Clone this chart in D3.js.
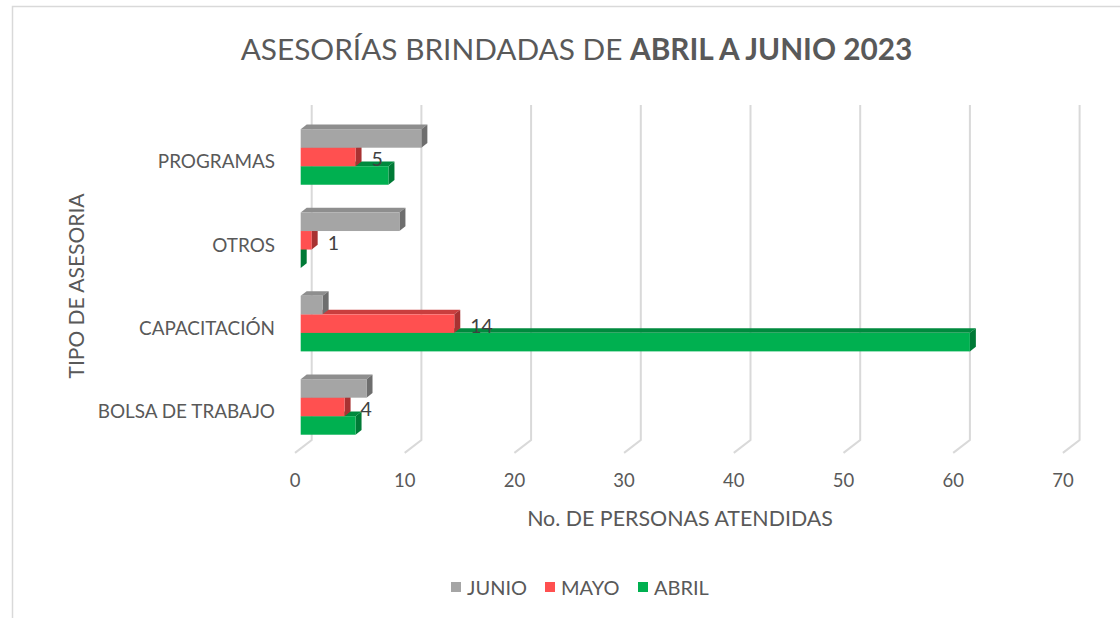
<!DOCTYPE html>
<html>
<head>
<meta charset="utf-8">
<script src="https://cdn.jsdelivr.net/npm/d3@7"></script>
<style>
  html, body { margin: 0; padding: 0; background: #fff; }
  svg { display: block; font-family: Lato, "Open Sans", sans-serif; }
</style>
</head>
<body>
<svg id="chart" width="1120" height="618"></svg>
<script>
// ---- data (category order as in the data sheet, bottom to top in the chart) ----
const categories = ["BOLSA DE TRABAJO", "CAPACITACIÓN", "OTROS", "PROGRAMAS"];
const seriesNames = ["ABRIL", "MAYO", "JUNIO"];
const abril = [5, 61, 0, 8];
const mayo  = [4, 14, 1, 5];
const junio = [6, 2, 9, 11];
const xTicks = [0, 10, 20, 30, 40, 50, 60, 70];
const titleNormal = "ASESORÍAS BRINDADAS DE ";
const titleBold = "ABRIL A JUNIO 2023";
const xTitle = "No. DE PERSONAS ATENDIDAS";
const yTitle = "TIPO DE ASESORIA";

const seriesValues = { ABRIL: abril, MAYO: mayo, JUNIO: junio };
const colors = {
  JUNIO: { front: "#A5A5A5", top: "#8E8E8E", side: "#6E6E6E" },
  MAYO:  { front: "#FF5050", top: "#C93E3E", side: "#A83232" },
  ABRIL: { front: "#00B050", top: "#008A3E", side: "#007A36" }
};
const textColor = "#595959";

const svg = d3.select("#chart");

// chart border
svg.append("rect").attr("x", 12.5).attr("y", 6.5).attr("width", 1200).attr("height", 700)
  .attr("fill", "none").attr("stroke", "#D9D9D9").attr("stroke-width", 1.5);

// scales (front plane of bars)
const x = d3.scaleLinear().domain([0, 70]).range([300.7, 1068.6]);
const displayCats = categories.slice().reverse(); // top to bottom
const y = d3.scaleBand().domain(displayCats).range([115.3, 448.6]).paddingInner(1/3).paddingOuter(1/6);
const seriesTopDown = ["JUNIO", "MAYO", "ABRIL"];
const ys = d3.scaleBand().domain(seriesTopDown).range([0, y.bandwidth()]);

// depth vectors
const bdx = 6, bdy = -4.7;          // bar depth
const wallDx = 11, wallDy = -8.6;   // from bar front plane to back wall
const floorDx = -5.7, floorDy = 4.3;// from bar front plane to floor front edge
const floorBackY = 440, gridTop = 105;

// gridlines (back wall + floor)
const grid = svg.append("g").attr("fill", "none").attr("stroke", "#D9D9D9").attr("stroke-width", 2);
xTicks.forEach(t => {
  const xb = x(t) + wallDx;
  const xf = x(t) + floorDx;
  grid.append("path")
    .attr("d", `M${xb},${gridTop} L${xb},${floorBackY} L${xf},${floorBackY + (floorDy - wallDy)}`);
});

// tick labels
svg.append("g").selectAll("text").data(xTicks).join("text")
  .attr("x", d => x(d) + floorDx).attr("y", 480)
  .attr("text-anchor", "middle").attr("dominant-baseline", "central")
  .attr("fill", textColor).attr("font-size", 18.5)
  .text(d => d);

// bars: draw lower bars first within each group
const bars = svg.append("g");
displayCats.forEach(cat => {
  const ci = categories.indexOf(cat);
  ["ABRIL", "MAYO", "JUNIO"].forEach(s => {
    const v = seriesValues[s][ci];
    const x0 = x(0), x1 = x(v);
    const y0 = y(cat) + ys(s), y1 = y0 + ys.bandwidth();
    const g = bars.append("g");
    g.append("path").attr("fill", colors[s].top)
      .attr("d", `M${x0},${y0} L${x0 + bdx},${y0 + bdy} L${x1 + bdx},${y0 + bdy} L${x1},${y0} Z`);
    g.append("path").attr("fill", colors[s].side)
      .attr("d", `M${x1},${y0} L${x1 + bdx},${y0 + bdy} L${x1 + bdx},${y1 + bdy} L${x1},${y1} Z`);
    g.append("rect").attr("fill", colors[s].front)
      .attr("x", x0).attr("y", y0).attr("width", Math.max(0, x1 - x0)).attr("height", y1 - y0);
  });
});

// data labels (MAYO)
svg.append("g").selectAll("text").data(displayCats).join("text")
  .attr("x", d => x(mayo[categories.indexOf(d)]) + bdx + 10)
  .attr("y", d => y(d) + ys("MAYO") + ys.bandwidth() / 2 + 2)
  .attr("dominant-baseline", "central")
  .attr("fill", "#404040").attr("font-size", 19.5)
  .text(d => mayo[categories.indexOf(d)]);

// category labels
svg.append("g").selectAll("text").data(displayCats).join("text")
  .attr("x", 275).attr("y", d => y(d) + y.bandwidth() / 2 + 4)
  .attr("text-anchor", "end").attr("dominant-baseline", "central")
  .attr("fill", textColor).attr("font-size", 18.9)
  .text(d => d);

// axis titles
svg.append("text").attr("x", 680).attr("y", 518)
  .attr("text-anchor", "middle").attr("dominant-baseline", "central")
  .attr("fill", textColor).attr("font-size", 21.4).text(xTitle);
svg.append("text").attr("transform", "translate(75,286) rotate(-90)")
  .attr("text-anchor", "middle").attr("dominant-baseline", "central")
  .attr("fill", textColor).attr("font-size", 21).text(yTitle);

// title
const title = svg.append("text").attr("x", 576.5).attr("y", 60)
  .attr("text-anchor", "middle").attr("fill", textColor).attr("font-size", 29.8);
title.append("tspan").text(titleNormal);
title.append("tspan").attr("font-weight", "bold").text(titleBold);

// legend
const legendItems = [
  { name: "JUNIO", x: 451 }, { name: "MAYO", x: 545 }, { name: "ABRIL", x: 638 }
];
const lg = svg.append("g");
legendItems.forEach(it => {
  lg.append("rect").attr("x", it.x).attr("y", 582).attr("width", 10).attr("height", 10)
    .attr("fill", colors[it.name].front);
  lg.append("text").attr("x", it.x + 16).attr("y", 587)
    .attr("dominant-baseline", "central").attr("fill", textColor).attr("font-size", 20)
    .text(it.name);
});
</script>
</body>
</html>
